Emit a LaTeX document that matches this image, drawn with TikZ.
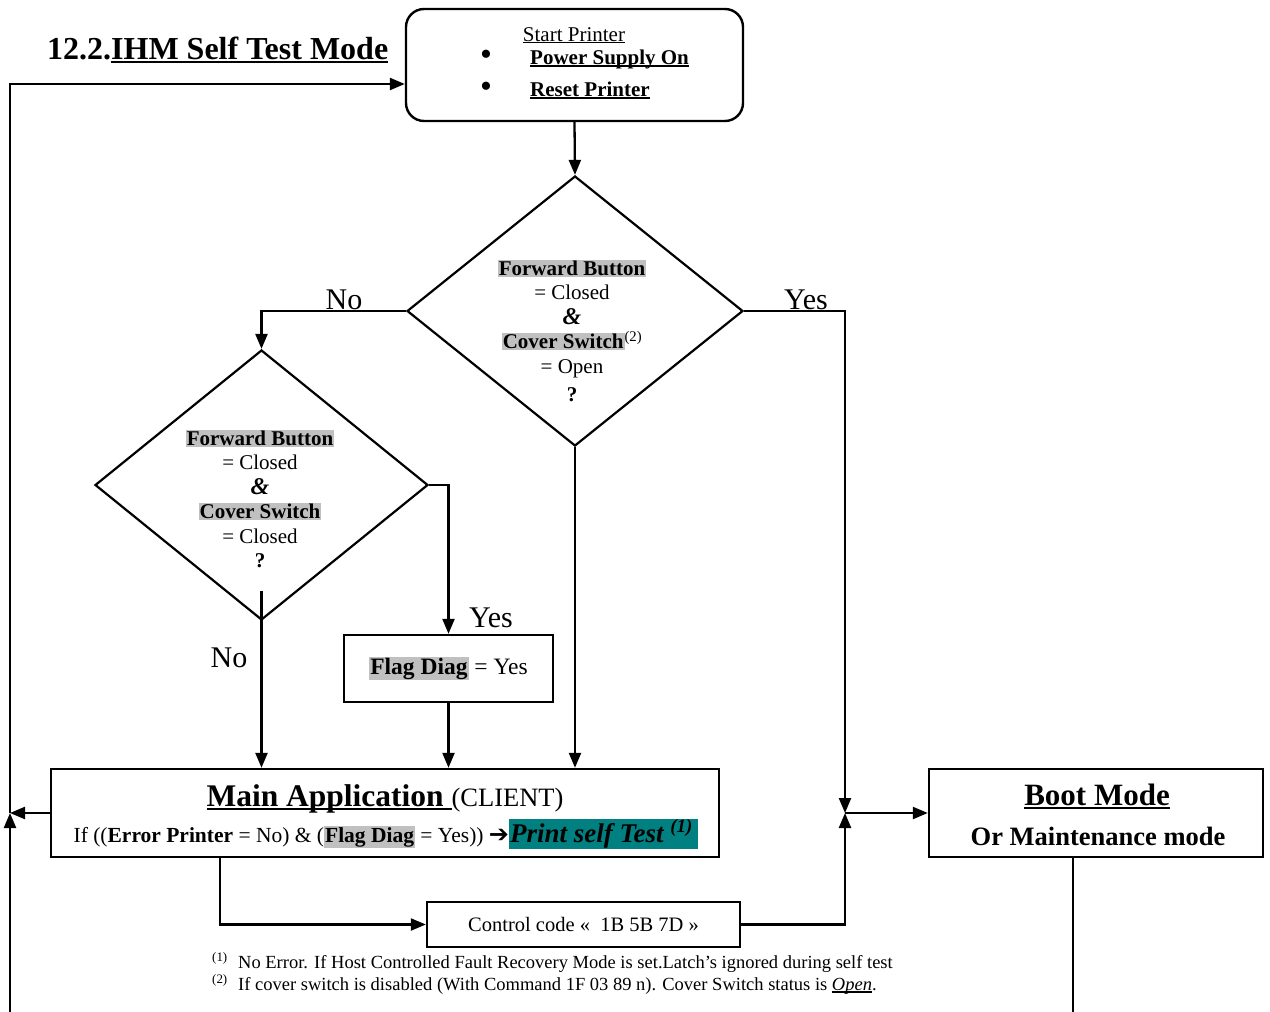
\documentclass[tikz,border=0pt]{standalone}
\usepackage{fontspec}
\setmainfont{Liberation Serif}
\newfontfamily\djv{DejaVu Sans}
\usetikzlibrary{arrows.meta,shapes.geometric}
\definecolor{hlgray}{RGB}{192,192,192}
\definecolor{tealbg}{RGB}{0,128,128}
\newcommand\hl[1]{{\setlength{\fboxsep}{1pt}\colorbox{hlgray}{#1}}}
\newcommand\uln[3]{{\setbox0\hbox{#3}\makebox[0pt][l]{\rule[-#1]{\wd0}{#2}}\box0}}
\begin{document}
\begin{tikzpicture}[x=1pt,y=-1pt,
  box/.style={draw, line width=2.4pt, inner sep=0pt},
  diam/.style={draw, diamond, line width=2.2pt, inner sep=0pt},
  arr/.style={line width=2.3pt, -{Triangle[length=15pt,width=12pt]}},
  ln/.style={line width=2.3pt},
  txt/.style={inner sep=0pt},
  dtext/.style={inner sep=0pt, align=center, font=\fontsize{21}{24.5}\selectfont},
  lbl/.style={inner sep=0pt, anchor=base, font=\fontsize{30}{30}\selectfont}]
\useasboundingbox (0,0) rectangle (1270,1012);

% title
\node[txt, anchor=base west, font=\fontsize{32}{32}\selectfont\bfseries] (title) at (47,59) {12.2.\uln{4pt}{2.5pt}{IHM Self Test Mode}};

% start box
\node[box, rounded corners=18pt, minimum width=337pt, minimum height=112pt] (start) at (574.5,65) {};
\node[txt, anchor=base, font=\fontsize{21}{21}\selectfont] (sp) at (574,41) {\uln{2pt}{1pt}{Start Printer}};
\node[txt, anchor=base west, font=\fontsize{21}{21}\selectfont] (ps) at (530,64) {\uln{3pt}{2pt}{\textbf{Power Supply On}}};
\node[txt, anchor=base west, font=\fontsize{21}{21}\selectfont] (rp) at (530,96) {\uln{3pt}{2pt}{\textbf{Reset Printer}}};
\node[txt, font=\fontsize{34}{34}\selectfont] (b1) at (486,58) {•};
\node[txt, font=\fontsize{34}{34}\selectfont] (b2) at (486,90) {•};

% diamond 1
\node[diam, minimum width=336pt, minimum height=270pt] (d1) at (575,311) {};
\node[dtext] (d1t) at (572,331) {\hl{\textbf{Forward Button}}\\ = Closed\\ {\fontsize{24}{24}\selectfont\textbf{\textit{\&}}}\\ \hl{\textbf{Cover Switch}}\textsuperscript{(2)}\\ = Open\\[4pt] \textbf{?}};

% diamond 2
\node[diam, minimum width=333pt, minimum height=270pt] (d2) at (261.5,485) {};
\node[dtext] (d2t) at (260,499) {\hl{\textbf{Forward Button}}\\ = Closed\\ {\fontsize{24}{24}\selectfont\textbf{\textit{\&}}}\\ \hl{\textbf{Cover Switch}}\\ = Closed\\ \textbf{?}};

% flag diag
\node[box, minimum width=209pt, minimum height=67pt, font=\fontsize{23.5}{23.5}\selectfont] (flag) at (448.5,668.5) {\hl{\textbf{Flag Diag}} = Yes};

% main application
\node[box, minimum width=668pt, minimum height=88pt] (main) at (385,813) {};
\node[txt, anchor=base] (mt1) at (385,806) {\uln{4pt}{2.5pt}{\fontsize{31.5}{31.5}\selectfont\bfseries Main Application }\fontsize{26.5}{26.5}\selectfont(CLIENT)};
\node[txt, anchor=base] (mt2) at (386,842) {\fontsize{21.5}{21.5}\selectfont If ((\textbf{Error Printer} = No) \& (\hl{\textbf{Flag Diag}} = Yes)) {\djv\fontsize{24}{24}\selectfont ➔}{\setlength\fboxsep{1pt}\colorbox{tealbg}{\fontsize{27}{27}\selectfont\bfseries\itshape Print self Test \textsuperscript{(1)}\,}}};

% boot mode
\node[box, minimum width=334pt, minimum height=88pt] (boot) at (1096,813) {};
\node[txt, anchor=base, font=\fontsize{31}{31}\selectfont\bfseries] (bt1) at (1097,805) {\uln{4pt}{2.5pt}{Boot Mode}};
\node[txt, anchor=base, font=\fontsize{26.5}{26.5}\selectfont\bfseries] (bt2) at (1098,845) {Or Maintenance mode};

% control code
\node[box, minimum width=313pt, minimum height=45pt, font=\fontsize{20.5}{20.5}\selectfont] (cc) at (583.5,924.5) {Control code «\ \ 1B 5B 7D »};

% footnotes
\node[txt, anchor=base west, font=\fontsize{18.5}{18.5}\selectfont] (fn1) at (212,968) {\makebox[26pt][l]{\textsuperscript{(1)}}No Error. If Host Controlled Fault Recovery Mode is set.Latch’s ignored during self test};
\node[txt, anchor=base west, font=\fontsize{18.5}{18.5}\selectfont] (fn2) at (212,990) {\makebox[26pt][l]{\textsuperscript{(2)}}If cover switch is disabled (With Command 1F 03 89 n). Cover Switch status is \uln{2.5pt}{1.5pt}{\textit{Open}}.};

% labels
\node[lbl] (no1) at (344,309) {No};
\node[lbl] (yes1) at (806,309) {Yes};
\node[lbl] (yes2) at (491,627) {Yes};
\node[lbl] (no2) at (229,667) {No};

% junctions
\coordinate (J) at (845,813);
\coordinate (L) at (10,813);
\coordinate (LB) at (10,1012);

% connectors
\draw[arr] (start.south) -- (d1.north);
\draw[arr] (d1.west) -| (d2.north);
\draw[arr] (d1.east) -| (J);
\draw[arr] (d2.east) -| (flag.north);
\draw[arr] ([yshift=30pt]d2.south) -- (d2.south |- main.north);
\draw[arr] (flag.south) -- (flag.south |- main.north);
\draw[arr] (d1.south) -- (d1.south |- main.north);
\draw[arr] (main.west) -- (L);
\draw[arr] (LB) -- (L);
\draw[arr] (L) |- ([yshift=-19pt]start.west);
\draw[arr] (J) -- (boot.west);
\draw[arr] ([xshift=-165pt]main.south) |- (cc.west);
\draw[arr] (cc.east) -| (J);
\draw[ln] ([xshift=-23pt]boot.south) -- ++(0,155);
\end{tikzpicture}
\end{document}
